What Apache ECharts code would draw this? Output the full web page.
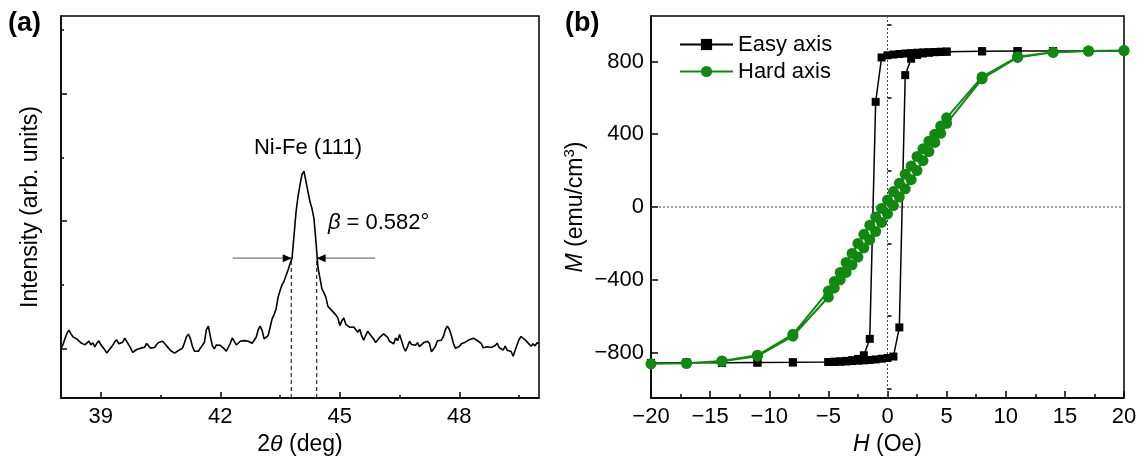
<!DOCTYPE html>
<html lang="en">
<head>
<meta charset="utf-8">
<title>Ni-Fe XRD and M-H loops</title>
<script src="https://cdn.jsdelivr.net/npm/echarts@6/dist/echarts.min.js"></script>
<style>
  html, body { margin: 0; padding: 0; background: #fff; }
  #chart { width: 1141px; height: 464px; }
</style>
</head>
<body>
<div id="chart"></div>
<script type="text/javascript">
// ---- (a) XRD scan, 2theta in deg, intensity in arb. units ----
var twoTheta = [
  38,38.05,38.1,38.15,38.2,38.25,38.3,38.35,38.4,38.45,38.5,38.55,38.6,38.65,38.7,38.75,38.8,38.85,38.9,38.95,
  39,39.05,39.1,39.15,39.2,39.25,39.3,39.35,39.4,39.45,39.5,39.55,39.6,39.65,39.7,39.75,39.8,39.85,39.9,39.95,
  40,40.05,40.1,40.15,40.2,40.25,40.3,40.35,40.4,40.45,40.5,40.55,40.6,40.65,40.7,40.75,40.8,40.85,40.9,40.95,
  41,41.05,41.1,41.15,41.2,41.25,41.3,41.35,41.4,41.45,41.5,41.55,41.6,41.65,41.7,41.75,41.8,41.85,41.9,41.95,
  42,42.05,42.1,42.15,42.2,42.25,42.3,42.35,42.4,42.45,42.5,42.55,42.6,42.65,42.7,42.75,42.8,42.85,42.9,42.95,
  43,43.05,43.1,43.15,43.2,43.25,43.3,43.35,43.4,43.45,43.5,43.55,43.6,43.65,43.7,43.75,43.8,43.85,43.9,43.95,
  44,44.05,44.1,44.15,44.2,44.25,44.3,44.35,44.4,44.45,44.5,44.55,44.6,44.65,44.7,44.75,44.8,44.85,44.9,44.95,
  45,45.05,45.1,45.15,45.2,45.25,45.3,45.35,45.4,45.45,45.5,45.55,45.6,45.65,45.7,45.75,45.8,45.85,45.9,45.95,
  46,46.05,46.1,46.15,46.2,46.25,46.3,46.35,46.4,46.45,46.5,46.55,46.6,46.65,46.7,46.75,46.8,46.85,46.9,46.95,
  47,47.05,47.1,47.15,47.2,47.25,47.3,47.35,47.4,47.45,47.5,47.55,47.6,47.65,47.7,47.75,47.8,47.85,47.9,47.95,
  48,48.05,48.1,48.15,48.2,48.25,48.3,48.35,48.4,48.45,48.5,48.55,48.6,48.65,48.7,48.75,48.8,48.85,48.9,48.95,
  49,49.05,49.1,49.15,49.2,49.25,49.3,49.35,49.4,49.45,49.5,49.55,49.6,49.65,49.7,49.75,49.8,49.85,49.9,49.95,
  50
];
var intensity = [
  772,840,935,1018,1066,1008,961,945,924,929,867,888,835,809,893,835,867,804,861,898,
  835,851,757,704,751,730,830,882,914,851,825,877,940,914,835,783,715,715,762,741,
  783,814,798,856,851,783,804,793,840,872,851,893,867,819,825,746,777,704,694,746,
  720,783,867,961,1003,929,809,736,723,734,786,828,875,1074,1127,964,818,771,833,812,
  828,818,771,734,739,860,943,928,833,812,891,870,901,880,891,886,860,875,954,1069,
  1127,1059,928,901,980,1111,1242,1310,1399,1583,1687,1782,1834,1923,2012,2107,2196,2552,2919,3165,
  3348,3511,3563,3400,3240,3085,2975,2820,2460,2054,1887,1714,1656,1583,1441,1420,1373,1389,1305,1258,
  1137,1211,1258,1158,1163,1111,1132,1116,1132,1032,1080,975,907,985,1048,1048,964,928,870,870,
  954,938,1006,1022,954,891,922,849,943,901,996,901,797,734,807,891,839,854,828,870,
  807,819,867,851,893,856,725,694,814,898,919,908,966,1076,1129,1076,982,861,783,772,
  809,851,877,877,882,914,903,940,945,903,914,856,788,804,804,777,793,788,825,861,
  793,777,751,814,751,772,730,657,667,835,919,966,982,914,882,861,814,851,819,867,
  851
];
var fwhmEdges = [43.78, 44.42];      // dashed drop lines
var halfMax = 2196;
var arrowLeft = [42.31, 43.78];      // tail, tip
var arrowRight = [45.89, 44.43];
var peakLabelPos = [44.2, 3930];
var betaLabelPos = [44.7, 2750];
var xrdXLabels = [39, 42, 45, 48];
var xrdXMinor = [40.5, 43.5, 46.5, 49.5];
var xrdYMajor = [780, 2780, 4780];
var xrdYMinor = [1780, 3780, 5780];

// ---- (b) M-H loops, H in Oe, M in emu/cm3 (sweep +20 -> -20 -> +20) ----
var easyH = [20,17,14,11,8,5,4.5,4,3.5,3,2.5,2,1.5,1,0.5,0,-0.5,-1,-1.5,-2,-2.5,-3,-3.5,-4,-4.5,-5,-8,-11,-14,-17,-20,
             -17,-14,-11,-8,-5,-4.5,-4,-3.5,-3,-2.5,-2,-1.5,-1,-0.5,0,0.5,1,1.5,2,2.5,3,3.5,4,4.5,5,8,11,14,17,20];
var easyM = [858,858,857,857,856,854,853,852,851,850,848,846,844,841,838,834,822,578,-725,-815,-835,-842,-846,-849,-851,-852,-854,-855,-856,-856,-857,
             -856,-856,-855,-854,-852,-851,-850,-849,-847,-845,-843,-841,-838,-834,-830,-822,-662,725,815,836,844,848,851,853,854,856,857,857,858,858];
var hardH = easyH.slice();
var hardM = [860,857,851,826,715,490,445,400,362,320,278,225,180,130,85,38,-8,-55,-100,-150,-200,-255,-305,-360,-410,-462,-700,-815,-846,-859,-862,
             -859,-848,-820,-710,-495,-445,-400,-360,-318,-275,-225,-180,-135,-85,-38,8,55,100,150,200,255,305,355,405,460,705,822,850,857,860];
var mhYLabels = [-800, -400, 0, 400, 800];
var mhYMinor = [-1000, -600, -200, 200, 600, 1000];

var FONT = "'Liberation Sans', Arial, sans-serif";
var GREEN = '#128812';

function pairs(xs, ys) {
    var out = [];
    for (var i = 0; i < Math.min(xs.length, ys.length); i++) out.push([xs[i], ys[i]]);
    return out;
}
function minus(v) { return v < 0 ? '\u2212' + Math.abs(v) : String(v); }

var axisLineStyle = { show: true, onZero: false, lineStyle: { color: '#000', width: 1.5 } };
var labelStyle = { color: '#000', fontSize: 22, fontFamily: FONT };
var nameStyle = {
    color: '#000', fontSize: 23, fontFamily: FONT,
    rich: {
        i: { fontStyle: 'italic', fontSize: 23, fontFamily: FONT, color: '#000' },
        sup: { fontSize: 15, fontFamily: FONT, color: '#000', verticalAlign: 'top', padding: [0, 0, 12, 0] }
    }
};

var chart = echarts.init(document.getElementById('chart'), null, { renderer: 'canvas' });
var option = {
    animation: false,
    backgroundColor: '#fff',
    grid: [
        { left: 61, top: 16, width: 478, height: 382, show: true, borderColor: '#000', borderWidth: 1.5, outerBoundsMode: 'none' },
        { left: 651, top: 16, width: 473, height: 382, show: true, borderColor: '#000', borderWidth: 1.5, outerBoundsMode: 'none' }
    ],
    graphic: [
        { type: 'text', left: 8, top: 10, style: { text: '(a)', font: 'bold 27px ' + FONT, fill: '#000' } },
        { type: 'text', left: 565, top: 10, style: { text: '(b)', font: 'bold 27px ' + FONT, fill: '#000' } }
    ],
    legend: {
        data: ['Easy axis', 'Hard axis'],
        orient: 'vertical', left: 679, top: 33, padding: 0,
        itemWidth: 53, itemHeight: 14, itemGap: 4,
        textStyle: { color: '#000', fontSize: 22, fontFamily: FONT, lineHeight: 23, padding: [0, 0, 0, 0] }
    },
    xAxis: [
        {
            gridIndex: 0, type: 'value', min: 38, max: 50,
            axisLine: axisLineStyle,
            axisTick: { show: true, inside: true, length: 6, customValues: xrdXLabels, lineStyle: { color: '#000', width: 1.5 } },
            axisLabel: Object.assign({ customValues: xrdXLabels, margin: 8 }, labelStyle),
            splitLine: { show: false },
            name: '2{i|θ} (deg)', nameLocation: 'middle', nameGap: 35, nameTextStyle: nameStyle
        },
        {
            gridIndex: 0, type: 'value', min: 38, max: 50, position: 'bottom',
            axisLine: { show: false },
            axisTick: { show: true, inside: true, length: 3, customValues: xrdXMinor, lineStyle: { color: '#000', width: 1.5 } },
            axisLabel: { show: false }, splitLine: { show: false }
        },
        {
            gridIndex: 1, type: 'value', min: -20, max: 20, interval: 5,
            axisLine: axisLineStyle,
            axisTick: { show: true, inside: true, length: 7, lineStyle: { color: '#000', width: 1.5 } },
            minorTick: { show: true, splitNumber: 2, length: 4, lineStyle: { color: '#000', width: 1.5 } },
            axisLabel: Object.assign({ formatter: minus, margin: 8 }, labelStyle),
            splitLine: { show: false },
            name: '{i|H} (Oe)', nameLocation: 'middle', nameGap: 35, nameTextStyle: nameStyle
        }
    ],
    yAxis: [
        {
            gridIndex: 0, type: 'value', min: 0, max: 6000,
            axisLine: axisLineStyle,
            axisTick: { show: true, inside: true, length: 6, customValues: xrdYMajor, lineStyle: { color: '#000', width: 1.5 } },
            axisLabel: { show: false }, splitLine: { show: false },
            name: 'Intensity (arb. units)', nameLocation: 'middle', nameGap: 19, nameTextStyle: nameStyle
        },
        {
            gridIndex: 0, type: 'value', min: 0, max: 6000, position: 'left',
            axisLine: { show: false },
            axisTick: { show: true, inside: true, length: 3, customValues: xrdYMinor, lineStyle: { color: '#000', width: 1.5 } },
            axisLabel: { show: false }, splitLine: { show: false }
        },
        {
            gridIndex: 1, type: 'value', min: -1050, max: 1050,
            axisLine: axisLineStyle,
            axisTick: { show: true, inside: true, length: 7, customValues: mhYLabels, lineStyle: { color: '#000', width: 1.5 } },
            axisLabel: Object.assign({ customValues: mhYLabels, formatter: minus, margin: 7 }, labelStyle),
            splitLine: { show: false },
            name: '{i|M} (emu/cm{sup|3})', nameLocation: 'middle', nameGap: 62, nameTextStyle: nameStyle
        },
        {
            gridIndex: 1, type: 'value', min: -1050, max: 1050, position: 'left',
            axisLine: { show: false },
            axisTick: { show: true, inside: true, length: 4, customValues: mhYMinor, lineStyle: { color: '#000', width: 1.5 } },
            axisLabel: { show: false }, splitLine: { show: false }
        }
    ],
    series: [
        // (a) pattern
        {
            type: 'line', xAxisIndex: 0, yAxisIndex: 0, data: pairs(twoTheta, intensity),
            showSymbol: false, symbol: 'none', silent: true, z: 3,
            lineStyle: { color: '#000', width: 1.6 }
        },
        // FWHM drop lines
        {
            type: 'line', xAxisIndex: 0, yAxisIndex: 0, symbol: 'none', silent: true, z: 2,
            data: [[fwhmEdges[0], 0], [fwhmEdges[0], halfMax]],
            lineStyle: { color: '#000', width: 1, type: [4, 3] }
        },
        {
            type: 'line', xAxisIndex: 0, yAxisIndex: 0, symbol: 'none', silent: true, z: 2,
            data: [[fwhmEdges[1], 0], [fwhmEdges[1], halfMax]],
            lineStyle: { color: '#000', width: 1, type: [4, 3] }
        },
        // arrows
        {
            type: 'line', xAxisIndex: 0, yAxisIndex: 0, symbol: 'none', silent: true, z: 2,
            data: [[arrowLeft[0], halfMax], [arrowLeft[1], halfMax]],
            lineStyle: { color: '#777', width: 1.2 }
        },
        {
            type: 'line', xAxisIndex: 0, yAxisIndex: 0, symbol: 'none', silent: true, z: 2,
            data: [[arrowRight[0], halfMax], [arrowRight[1], halfMax]],
            lineStyle: { color: '#777', width: 1.2 }
        },
        {
            type: 'scatter', xAxisIndex: 0, yAxisIndex: 0, silent: true, z: 4,
            data: [[arrowLeft[1] - 0.1, halfMax]],
            symbol: 'path://M0,0L10,4L0,8Z', symbolSize: [9, 8],
            itemStyle: { color: '#000', opacity: 1 }
        },
        {
            type: 'scatter', xAxisIndex: 0, yAxisIndex: 0, silent: true, z: 4,
            data: [[arrowRight[1] + 0.1, halfMax]],
            symbol: 'path://M10,0L0,4L10,8Z', symbolSize: [9, 8],
            itemStyle: { color: '#000', opacity: 1 }
        },
        // annotations
        {
            type: 'scatter', xAxisIndex: 0, yAxisIndex: 0, silent: true, z: 5,
            data: [peakLabelPos], symbolSize: 0, itemStyle: { color: '#000', opacity: 1 },
            label: { show: true, position: 'inside', formatter: 'Ni-Fe (111)', color: '#000', opacity: 1, fontSize: 22, fontFamily: FONT }
        },
        {
            type: 'scatter', xAxisIndex: 0, yAxisIndex: 0, silent: true, z: 5,
            data: [betaLabelPos], symbolSize: 0, itemStyle: { color: '#000', opacity: 1 },
            label: {
                show: true, position: 'right', distance: 0, formatter: '{i|β} = 0.582°',
                color: '#000', opacity: 1, fontSize: 22, fontFamily: FONT,
                rich: { i: { fontStyle: 'italic', fontSize: 22, fontFamily: FONT, color: '#000' } }
            }
        },
        // (b) zero guides
        {
            type: 'line', xAxisIndex: 2, yAxisIndex: 2, symbol: 'none', silent: true, z: 1,
            data: [[0, -1050], [0, 1050]],
            lineStyle: { color: '#444', width: 1, type: [2, 2] }
        },
        {
            type: 'line', xAxisIndex: 2, yAxisIndex: 2, symbol: 'none', silent: true, z: 1,
            data: [[-20, 0], [20, 0]],
            lineStyle: { color: '#444', width: 1, type: [2, 2] }
        },
        // (b) loops
        {
            name: 'Easy axis', type: 'line', xAxisIndex: 2, yAxisIndex: 2, z: 3,
            data: pairs(easyH, easyM),
            symbol: 'rect', symbolSize: 8, showAllSymbol: true,
            lineStyle: { color: '#000', width: 1.5 }, itemStyle: { color: '#000' }
        },
        {
            name: 'Hard axis', type: 'line', xAxisIndex: 2, yAxisIndex: 2, z: 4,
            data: pairs(hardH, hardM),
            symbol: 'circle', symbolSize: 11, showAllSymbol: true,
            lineStyle: { color: GREEN, width: 2 }, itemStyle: { color: GREEN }
        }
    ]
};
chart.setOption(option);
</script>
</body>
</html>
